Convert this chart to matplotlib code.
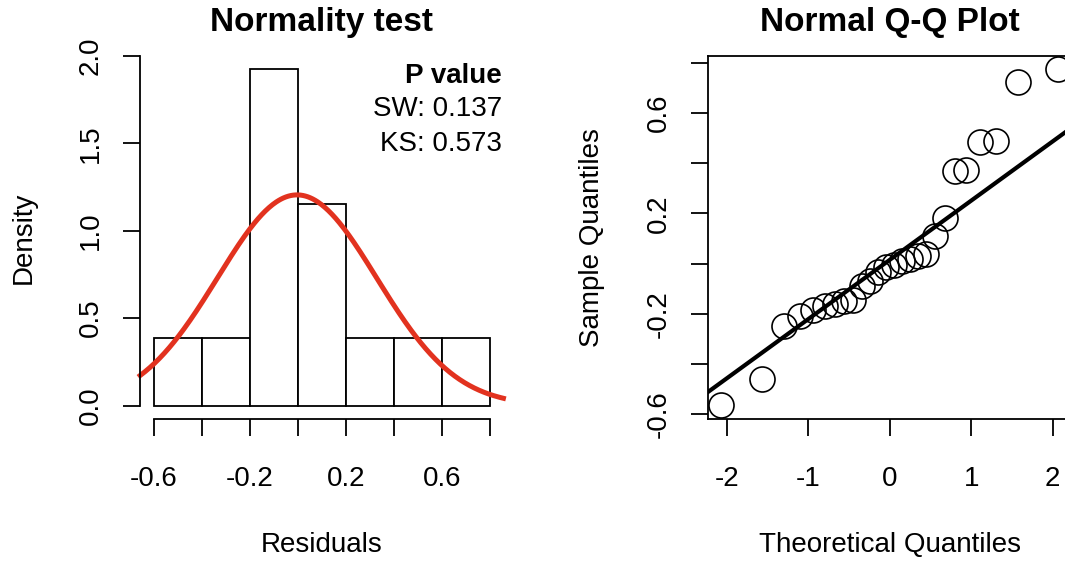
import numpy as np
import matplotlib
matplotlib.use("Agg")
import matplotlib.pyplot as plt

plt.rcParams['font.family'] = ['Liberation Sans', 'DejaVu Sans']
plt.rcParams['axes.unicode_minus'] = False

# residuals (sorted)
residuals = [-0.565, -0.46, -0.25, -0.21, -0.185, -0.17, -0.16, -0.15, -0.145,
             -0.09, -0.07, -0.035, -0.015, -0.005, 0.01, 0.02, 0.03, 0.04,
             0.11, 0.18, 0.37, 0.375, 0.485, 0.49, 0.725, 0.775]
theo_q = [-2.07, -1.574, -1.304, -1.105, -0.942, -0.801, -0.674, -0.558, -0.448,
          -0.344, -0.244, -0.145, -0.048, 0.048, 0.145, 0.244, 0.344, 0.448,
          0.558, 0.674, 0.801, 0.942, 1.105, 1.304, 1.574, 2.07]
bin_edges = [-0.6, -0.4, -0.2, 0.0, 0.2, 0.4, 0.6, 0.8]
curve_mean, curve_sd = -0.003, 0.331
line_icpt, line_slope = 0.015, 0.236
pvals = {'SW': '0.137', 'KS': '0.573'}

FS = 20
W, H = 1065, 561
fig = plt.figure(figsize=(W / 100, H / 100), dpi=100)

def ftext(x, y, s, **kw):
    # place text at reference pixel position
    fig.text(x / W, 1 - y / H, s, ha='center', va='center', **kw)

# ---- left: histogram + normal curve
ax1 = fig.add_axes([0.1316, 0.2531, 0.3411, 0.6471])
ax1.hist(residuals, bins=bin_edges, density=True, facecolor='white',
         edgecolor='black', linewidth=1.3)
xs = np.linspace(-0.656, 0.856, 300)
ys = np.exp(-0.5 * ((xs - curve_mean) / curve_sd) ** 2) / (curve_sd * np.sqrt(2 * np.pi))
ax1.plot(xs, ys, color='#e2321f', lw=3.6, clip_on=False)
ax1.set_xlim(-0.656, 0.856)
ax1.set_ylim(-0.077, 2.0)
for s in ['top', 'right']:
    ax1.spines[s].set_visible(False)
ax1.spines['left'].set_bounds(0, 2)
ax1.spines['bottom'].set_bounds(-0.6, 0.8)
ax1.set_yticks([0, 0.5, 1.0, 1.5, 2.0], ['0.0', '0.5', '1.0', '1.5', '2.0'])
ax1.set_xticks(bin_edges, ['-0.6', '', '-0.2', '', '0.2', '', '0.6', ''])
ax1.text(0.996, 0.9435, 'P value', transform=ax1.transAxes, ha='right',
         va='center', fontsize=FS, fontweight='bold')
ax1.text(0.996, 0.855, 'SW: ' + pvals['SW'], transform=ax1.transAxes,
         ha='right', va='center', fontsize=FS)
ax1.text(0.996, 0.7576, 'KS: ' + pvals['KS'], transform=ax1.transAxes,
         ha='right', va='center', fontsize=FS)
ftext(322, 23, 'Normality test', fontsize=24, fontweight='bold')
ftext(322, 545, 'Residuals', fontsize=FS)
ftext(24, 238, 'Density', fontsize=FS, rotation=90)

# ---- right: normal Q-Q plot
ax2 = fig.add_axes([0.6648, 0.2531, 0.3414, 0.6471])
ax2.plot(theo_q, residuals, 'o', mfc='none', mec='black', ms=18, mew=1.2,
         clip_on=False)
ax2.axline((0, line_icpt), slope=line_slope, color='black', lw=3)
ax2.set_xlim(-2.234, 2.234)
ax2.set_ylim(-0.62, 0.828)
ax2.set_xticks([-2, -1, 0, 1, 2])
ax2.set_yticks([-0.6, -0.4, -0.2, 0.0, 0.2, 0.4, 0.6, 0.8],
               ['-0.6', '', '-0.2', '', '0.2', '', '0.6', ''])
ftext(890, 23, 'Normal Q-Q Plot', fontsize=24, fontweight='bold')
ftext(890, 545, 'Theoretical Quantiles', fontsize=FS)
ftext(592, 238, 'Sample Quantiles', fontsize=FS, rotation=90)

for ax in (ax1, ax2):
    for s in ax.spines.values():
        s.set_linewidth(1.3)
    ax.tick_params(labelsize=FS, length=12, width=1.3, pad=14, colors='black')
    ax.tick_params(axis='x', pad=22)
    for lab in ax.get_yticklabels():
        lab.set_rotation(90)
        lab.set_va('center')

fig.savefig('out.png', dpi=100)
